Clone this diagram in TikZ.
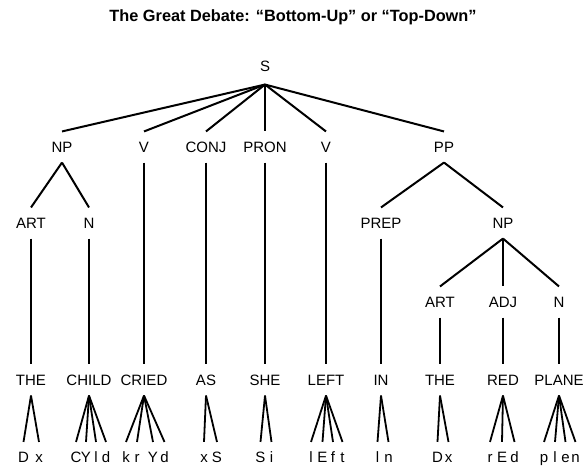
\documentclass[tikz,border=0pt]{standalone}
\usepackage{fontspec}
\setmainfont{Liberation Sans}
\begin{document}
\begin{tikzpicture}[x=1pt,y=-1pt,
  lab/.style={font=\fontsize{15}{18}\selectfont, text height=10.7pt, text depth=0pt, inner xsep=0pt, inner ysep=10pt},
  ph/.style={font=\fontsize{15}{17}\selectfont, text height=10.7pt, text depth=0pt, inner xsep=0pt, inner ysep=9.5pt},
  edge/.style={line width=2pt},
  fan/.style={line width=1.8pt}]
\useasboundingbox[fill=white] (0,0) rectangle (587,469);
% title
\node[font=\fontsize{16.3}{19}\selectfont\bfseries] (title) at (293,17) {The Great Debate: “Bottom-Up” or “Top-Down”};
% level 0
\node[lab, inner ysep=13pt] (S) at (265,66) {S};
% level 1
\node[lab] (NP) at (62,147) {NP};
\node[lab] (V) at (144,147) {V};
\node[lab] (CONJ) at (206,147) {CONJ};
\node[lab] (PRON) at (265,147) {PRON};
\node[lab] (V2) at (326,147) {V};
\node[lab] (PP) at (444,147) {PP};
% level 2
\node[lab] (ART) at (31,223) {ART};
\node[lab] (N) at (89,223) {N};
\node[lab] (PREP) at (381,223) {PREP};
\node[lab] (NP2) at (503,223) {NP};
% level 3
\node[lab] (ART2) at (440,302) {ART};
\node[lab] (ADJ) at (503,302) {ADJ};
\node[lab] (N2) at (559,302) {N};
% words
\node[lab] (w1) at (31,380) {THE};
\node[lab] (w2) at (89,380) {CHILD};
\node[lab] (w3) at (144,380) {CRIED};
\node[lab] (w4) at (206,380) {AS};
\node[lab] (w5) at (265,380) {SHE};
\node[lab] (w6) at (326,380) {LEFT};
\node[lab] (w7) at (381,380) {IN};
\node[lab] (w8) at (440,380) {THE};
\node[lab] (w9) at (503,380) {RED};
\node[lab] (w10) at (559,380) {PLANE};
% phonemes
\node[ph] (p1a) at (23.5,457) {D};
\node[ph] (p1b) at (39,457) {x};
\node[ph] (p2a) at (76,457) {C};
\node[ph] (p2b) at (86,457) {Y};
\node[ph] (p2c) at (96,457) {l};
\node[ph] (p2d) at (106,457) {d};
\node[ph] (p3a) at (126,457) {k};
\node[ph] (p3b) at (137,457) {r};
\node[ph] (p3c) at (153,457) {Y};
\node[ph] (p3d) at (164.5,457) {d};
\node[ph] (p4a) at (204,457) {x};
\node[ph] (p4b) at (217,457) {S};
\node[ph] (p5a) at (260.5,457) {S};
\node[ph] (p5b) at (271.5,457) {i};
\node[ph] (p6a) at (311,457) {l};
\node[ph] (p6b) at (322.5,457) {E};
\node[ph] (p6c) at (333,457) {f};
\node[ph] (p6d) at (342.5,457) {t};
\node[ph] (p7a) at (377.5,457) {l};
\node[ph] (p7b) at (388.5,457) {n};
\node[ph] (p8a) at (437.5,457) {D};
\node[ph] (p8b) at (448.5,457) {x};
\node[ph] (p9a) at (490,457) {r};
\node[ph] (p9b) at (502,457) {E};
\node[ph] (p9c) at (514.5,457) {d};
\node[ph] (p10a) at (544,457) {p};
\node[ph] (p10b) at (555,457) {l};
\node[ph] (p10c) at (565.5,457) {e};
\node[ph] (p10d) at (575.5,457) {n};
% edges
\foreach \c in {NP,V,CONJ,PRON,V2,PP} \draw[edge] (S.south) -- (\c.north);
\draw[edge] (NP.south) -- (ART.north);
\draw[edge] (NP.south) -- (N.north);
\draw[edge] (PP.south) -- (PREP.north);
\draw[edge] (PP.south) -- (NP2.north);
\draw[edge] (NP2.south) -- (ART2.north);
\draw[edge] (NP2.south) -- (ADJ.north);
\draw[edge] (NP2.south) -- (N2.north);
\draw[edge] (ART.south) -- (w1.north);
\draw[edge] (N.south) -- (w2.north);
\draw[edge] (V.south) -- (w3.north);
\draw[edge] (CONJ.south) -- (w4.north);
\draw[edge] (PRON.south) -- (w5.north);
\draw[edge] (V2.south) -- (w6.north);
\draw[edge] (PREP.south) -- (w7.north);
\draw[edge] (ART2.south) -- (w8.north);
\draw[edge] (ADJ.south) -- (w9.north);
\draw[edge] (N2.south) -- (w10.north);
% fans
\foreach \p in {p1a,p1b} \draw[fan] (w1.south) -- (\p.north);
\foreach \p in {p2a,p2b,p2c,p2d} \draw[fan] (w2.south) -- (\p.north);
\foreach \p in {p3a,p3b,p3c,p3d} \draw[fan] (w3.south) -- (\p.north);
\foreach \p in {p4a,p4b} \draw[fan] (w4.south) -- (\p.north);
\foreach \p in {p5a,p5b} \draw[fan] (w5.south) -- (\p.north);
\foreach \p in {p6a,p6b,p6c,p6d} \draw[fan] (w6.south) -- (\p.north);
\foreach \p in {p7a,p7b} \draw[fan] (w7.south) -- (\p.north);
\foreach \p in {p8a,p8b} \draw[fan] (w8.south) -- (\p.north);
\foreach \p in {p9a,p9b,p9c} \draw[fan] (w9.south) -- (\p.north);
\foreach \p in {p10a,p10b,p10c,p10d} \draw[fan] (w10.south) -- (\p.north);
\end{tikzpicture}
\end{document}
